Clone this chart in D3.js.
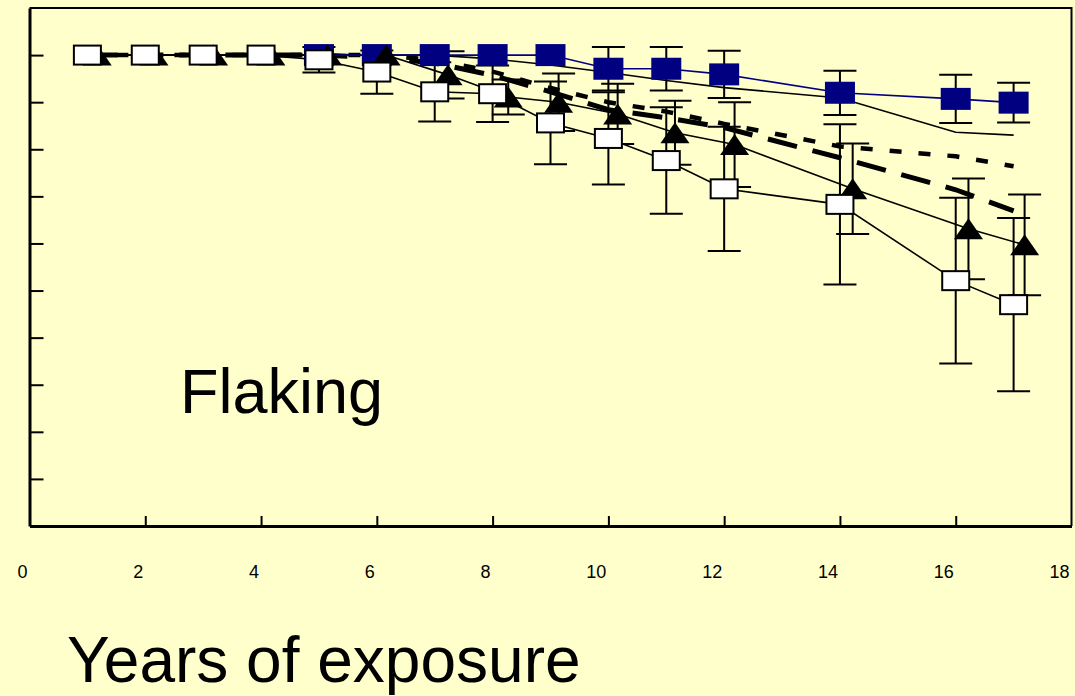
<!DOCTYPE html>
<html>
<head>
<meta charset="utf-8">
<script src="https://cdn.jsdelivr.net/npm/d3@7"></script>
<style>
  html, body { margin: 0; padding: 0; background: #FFFFCC; }
  svg { display: block; }
  text { font-family: "Liberation Sans", Arial, sans-serif; fill: #000; }
</style>
</head>
<body>
<svg id="chart" width="1075" height="696"></svg>
<script>
// ---- data ----
const xTickLabels = [0, 2, 4, 6, 8, 10, 12, 14, 16, 18];
const xTicks = [2, 4, 6, 8, 10, 12, 14, 16];
const yTicks = [10, 20, 30, 40, 50, 60, 70, 80, 90, 100];

// open (white) squares
const openX = [1, 2, 3, 4, 5, 6, 7, 8, 9, 10, 11, 12, 14, 16, 17];
const openY = [100, 100, 100, 100, 99.0, 96.4, 92.2, 91.8, 85.6, 82.3, 77.6, 71.6, 68.3, 52.1, 47.0];
const openErr = [0, 0, 0, 0, 2.7, 4.6, 6.3, 6.0, 8.8, 9.8, 11.3, 13.2, 17.0, 17.6, 18.4];

// filled triangles
const triX = [1.17, 2.15, 3.18, 4.17, 5.15, 6.16, 7.23, 8.27, 9.14, 10.16, 11.15, 12.18, 14.22, 16.22, 17.19];
const triY = [100, 100, 100, 100, 100, 100, 95.8, 91.1, 90.0, 87.5, 83.5, 81.0, 71.6, 63.1, 59.7];
const triErr = [0, 0, 0, 0, 0, 0, 5.0, 3.7, 6.1, 6.4, 6.8, 9.0, 9.6, 10.7, 10.7];

// navy filled squares
const navyX = [5, 6, 7, 8, 9, 10, 11, 12, 14, 16, 17];
const navyY = [100, 100, 100, 100, 100, 97.1, 97.1, 95.9, 92.0, 90.7, 89.9];
const navyErr = [0, 0, 0, 0, 0, 4.6, 4.6, 5.0, 4.7, 5.1, 4.2];

// thin plain line
const plainX = [1, 7, 8, 9, 10, 11, 12, 14, 16, 17];
const plainY = [100, 100, 99.2, 97.9, 96.3, 94.6, 93.1, 90.9, 83.6, 83.0];

// thick long-dash line
const longDashX = [1, 2, 3, 4, 5, 6, 7, 8, 9, 10, 11, 12, 14, 16, 17];
const longDashY = [100, 100, 100, 100, 100, 99.5, 98.3, 95.7, 92.2, 88.4, 86.7, 84.6, 78.2, 71.4, 66.9];

// thick short-dash line
const shortDashX = [1, 2, 3, 4, 5, 6, 7, 8, 9, 10, 11, 12, 14, 16, 17];
const shortDashY = [100, 100, 100, 100, 100, 100, 99.0, 96.5, 93.0, 90.0, 88.0, 85.4, 80.6, 78.5, 76.4];

// ---- chart ----
const svg = d3.select("#chart");
svg.append("rect").attr("width", 1075).attr("height", 696).attr("fill", "#FFFFCC");

const x = d3.scaleLinear().domain([0, 18]).range([29.5, 1071.5]);
const y = d3.scaleLinear().domain([0, 110]).range([526, 8]);

const zip = (xs, ys) => xs.map((v, i) => ({ x: v, y: ys[i] }));
const line = d3.line().x(d => x(d.x)).y(d => y(d.y));

// frame (top / right)
svg.append("path")
  .attr("d", `M${x(0)},${y(110)}H${x(18)}V${y(0)}`)
  .attr("fill", "none").attr("stroke", "#000").attr("stroke-width", 2);

// axes
const gx = svg.append("g").attr("transform", `translate(0,${y(0)})`)
  .call(d3.axisBottom(x).tickValues(xTicks).tickSize(-10).tickFormat("").tickSizeOuter(0));
gx.select(".domain").attr("stroke-width", 3);
gx.selectAll(".tick line").attr("stroke-width", 2);

const gy = svg.append("g").attr("transform", `translate(${x(0)},0)`)
  .call(d3.axisLeft(y).tickValues(yTicks).tickSize(-14).tickFormat("").tickSizeOuter(0));
gy.select(".domain").attr("stroke-width", 3);
gy.selectAll(".tick line").attr("stroke-width", 2);

// x tick labels
svg.append("g").selectAll("text").data(xTickLabels).join("text")
  .attr("x", d => x(d) - 2)
  .attr("y", 578)
  .attr("text-anchor", "end")
  .attr("font-size", 18)
  .text(d => d);

// lines
const lines = svg.append("g").attr("fill", "none");
lines.append("path").attr("d", line(zip(plainX, plainY)))
  .attr("stroke", "#000").attr("stroke-width", 1.6);
lines.append("path").attr("d", line(zip(openX, openY)))
  .attr("stroke", "#000").attr("stroke-width", 1.6);
lines.append("path").attr("d", line(zip(triX, triY)))
  .attr("stroke", "#000").attr("stroke-width", 1.6);
lines.append("path").attr("d", line(zip(longDashX, longDashY)))
  .attr("stroke", "#000").attr("stroke-width", 5).attr("stroke-dasharray", "30,16");
lines.append("path").attr("d", line(zip(shortDashX, shortDashY)))
  .attr("stroke", "#000").attr("stroke-width", 4.5).attr("stroke-dasharray", "12,17");
lines.append("path").attr("d", line(zip(navyX, navyY)))
  .attr("stroke", "#000080").attr("stroke-width", 1.6);

// error bars
function errorBars(xs, ys, errs) {
  const g = svg.append("g").attr("stroke", "#000").attr("stroke-width", 2);
  const data = xs.map((v, i) => ({ x: v, y: ys[i], e: errs[i] })).filter(d => d.e > 0);
  const capW = 16.5;
  g.selectAll("path").data(data).join("path")
    .attr("fill", "none")
    .attr("d", d => {
      const cx = x(d.x), y1 = y(d.y + d.e), y2 = y(d.y - d.e);
      return `M${cx},${y1}V${y2}M${cx - capW},${y1}H${cx + capW}M${cx - capW},${y2}H${cx + capW}`;
    });
}
errorBars(openX, openY, openErr);
errorBars(triX, triY, triErr);
errorBars(navyX, navyY, navyErr);

// markers
svg.append("g").selectAll("rect").data(zip(navyX, navyY)).join("rect")
  .attr("x", d => x(d.x) - 15).attr("y", d => y(d.y) - 11)
  .attr("width", 30).attr("height", 22)
  .attr("fill", "#000080");

svg.append("g").selectAll("path").data(zip(triX, triY)).join("path")
  .attr("d", d => {
    const cx = x(d.x), cy = y(d.y);
    return `M${cx},${cy - 10.5}L${cx + 14.5},${cy + 10.5}L${cx - 14.5},${cy + 10.5}Z`;
  })
  .attr("fill", "#000");

svg.append("g").selectAll("rect").data(zip(openX, openY)).join("rect")
  .attr("x", d => x(d.x) - 13.5).attr("y", d => y(d.y) - 9.5)
  .attr("width", 27).attr("height", 19)
  .attr("fill", "#fff").attr("stroke", "#000").attr("stroke-width", 2);

// texts
svg.append("text").attr("x", 180).attr("y", 413).attr("font-size", 63).text("Flaking");
svg.append("text").attr("x", 67).attr("y", 682).attr("font-size", 64).text("Years of exposure");
</script>
</body>
</html>
